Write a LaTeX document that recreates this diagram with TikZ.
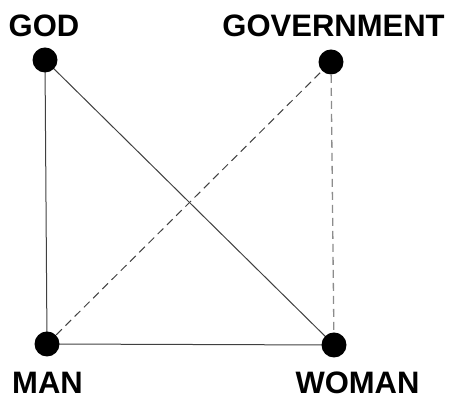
\documentclass[tikz,border=0pt]{standalone}
\usepackage{fontspec}
\setmainfont{Liberation Sans}
\begin{document}
\begin{tikzpicture}[x=1pt,y=1pt,
  dot/.style={circle,fill=black,inner sep=0pt,minimum size=25pt},
  lbl/.style={font=\fontsize{31}{36}\selectfont\bfseries,inner sep=0pt,anchor=base},
  solidline/.style={draw=black!75,line width=1pt},
  dashline/.style={draw=black!75,line width=1pt,dash pattern=on 8pt off 5pt},
  dashgray/.style={draw=black!45,line width=1.3pt,dash pattern=on 8pt off 5pt}]
\useasboundingbox (0,0) rectangle (451,398);
\coordinate (pgod) at (45,338);
\coordinate (pgov) at (331,336);
\coordinate (pman) at (47,54);
\coordinate (pwoman) at (334,53);
\draw[solidline] (pgod) -- (pman);
\draw[solidline] (pgod) -- (pwoman);
\draw[solidline] (pman) -- (pwoman);
\draw[dashline] (pman) -- (pgov);
\draw[dashgray] (pgov) -- (pwoman);
\node[dot] (god) at (pgod) {};
\node[dot] (gov) at (pgov) {};
\node[dot] (man) at (pman) {};
\node[dot] (woman) at (pwoman) {};
\node[lbl] (tgod) at (44,361) {GOD};
\node[lbl] (tgov) at (333.5,361) {GOVERNMENT};
\node[lbl] (tman) at (47.5,4) {MAN};
\node[lbl] (twoman) at (357.5,4) {WOMAN};
\end{tikzpicture}
\end{document}
